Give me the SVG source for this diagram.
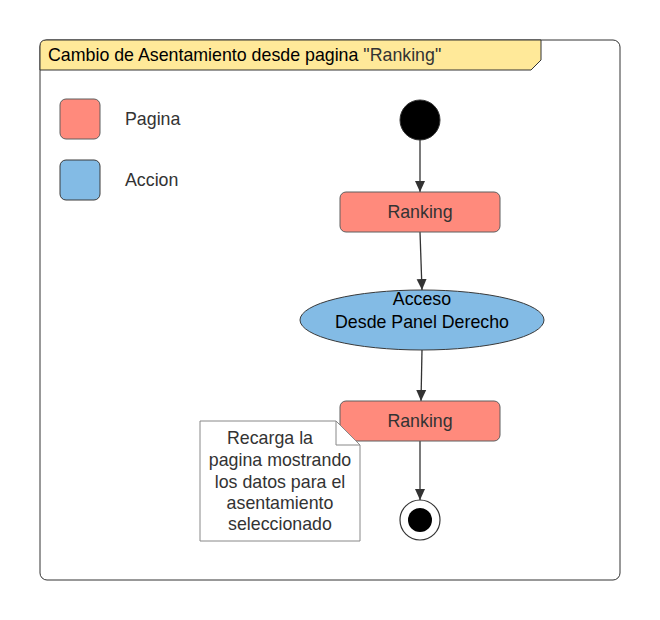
<svg xmlns="http://www.w3.org/2000/svg" width="660" height="620" viewBox="0 0 660 620">
<defs>
<marker id="arr" markerWidth="12" markerHeight="12" viewBox="0 0 12 12" refX="11" refY="6" orient="auto" markerUnits="userSpaceOnUse">
<path d="M0,1 L11,6 L0,11 Z" fill="#333"/>
</marker>
</defs>
<style>
text{font-family:"Liberation Sans",Arial,sans-serif;font-size:17.8px;fill:#333;}
.page{fill:#ff8a7c;stroke:#5e5e5e;stroke-width:1;}
.act{fill:#83bbe5;stroke:#3a3a3a;stroke-width:1;}
.conn{stroke:#333;stroke-width:1.3;fill:none;marker-end:url(#arr);}
</style>
<rect width="660" height="620" fill="#fff"/>
<g id="frame">
<rect x="40" y="40" width="580" height="540" rx="7" fill="#fff" stroke="#333" stroke-width="1"/>
<path d="M46,40 L541,40 L541,60 L531,70 L40,70 L40,46 Q40,40 46,40 Z" fill="#ffe999" stroke="#333" stroke-width="1"/>
<text x="48" y="61" style="fill:#000">Cambio de Asentamiento desde pagina <tspan style="fill:#333">"Ranking"</tspan></text>
</g>
<g id="legend-pagina">
<rect class="page" x="60" y="99" width="40" height="40" rx="6"/>
<text x="125" y="125">Pagina</text>
</g>
<g id="legend-accion">
<rect class="act" x="60" y="160" width="40" height="40" rx="6"/>
<text x="125" y="186">Accion</text>
</g>
<g id="connectors">
<line class="conn" x1="420" y1="140" x2="420" y2="192"/>
<line class="conn" x1="420" y1="232" x2="422" y2="290"/>
<line class="conn" x1="422" y1="350" x2="421" y2="401"/>
<line class="conn" x1="420" y1="441" x2="420" y2="500"/>
</g>
<g id="start">
<circle cx="420" cy="120" r="20" fill="#000" stroke="#333"/>
</g>
<g id="ranking1">
<rect class="page" x="340" y="192" width="160" height="40" rx="6"/>
<text x="420" y="218" text-anchor="middle">Ranking</text>
</g>
<g id="acceso">
<ellipse class="act" cx="422" cy="320" rx="122" ry="30"/>
<text x="422" y="305" text-anchor="middle" style="fill:#000">Acceso</text>
<text x="422" y="328" text-anchor="middle" style="fill:#000">Desde Panel Derecho</text>
</g>
<g id="ranking2">
<rect class="page" x="340" y="401" width="160" height="40" rx="6"/>
<text x="420" y="427" text-anchor="middle">Ranking</text>
</g>
<g id="note">
<path d="M200,421 L336,421 L360,445 L360,541 L200,541 Z" fill="#fff" stroke="#888" stroke-width="1"/>
<path d="M336,421 L336,445 L360,445" fill="none" stroke="#888" stroke-width="1"/>
<text x="270" y="444" text-anchor="middle">Recarga la</text>
<text x="280" y="466" text-anchor="middle">pagina mostrando</text>
<text x="280" y="488" text-anchor="middle">los datos para el</text>
<text x="280" y="509" text-anchor="middle">asentamiento</text>
<text x="280" y="530" text-anchor="middle">seleccionado</text>
</g>
<g id="end">
<circle cx="420" cy="520" r="20" fill="#fff" stroke="#333" stroke-width="1.2"/>
<circle cx="420" cy="520" r="12" fill="#000"/>
</g>
</svg>
